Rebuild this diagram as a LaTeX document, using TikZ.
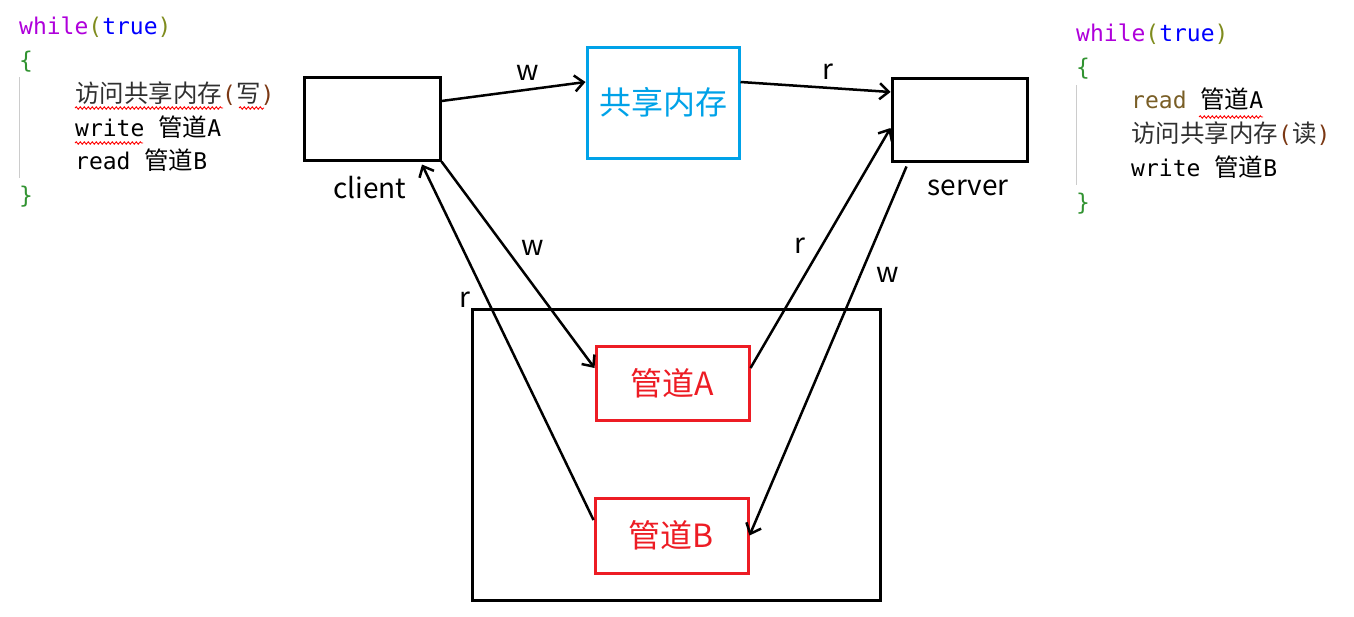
\documentclass[tikz,border=0pt]{standalone}
\usepackage{fontspec}
\setmonofont{DejaVu Sans Mono}
\newfontfamily\cjk{Noto Sans CJK SC}
\usetikzlibrary{arrows.meta,decorations.pathmorphing}
\definecolor{kw}{HTML}{AF00DB}
\definecolor{tr}{HTML}{0000FF}
\definecolor{par}{HTML}{7F8C1E}
\definecolor{brc}{HTML}{319331}
\definecolor{pb}{HTML}{7B3814}
\definecolor{fn}{HTML}{795E26}
\definecolor{zhc}{HTML}{303030}
\definecolor{shm}{HTML}{00A2E8}
\definecolor{pipe}{HTML}{ED1C24}
\newcommand\zh[1]{{\cjk\fontsize{24.5}{24.5}\selectfont #1}}
\tikzset{
  code/.style={anchor=base west, inner sep=0pt, font=\ttfamily\fontsize{23}{23}\selectfont},
  box/.style={draw, line width=3pt, rectangle, inner sep=0pt},
  lbl/.style={inner sep=0pt, font=\cjk\fontsize{28}{28}\selectfont},
  conn/.style={line width=2.5pt, -{Straight Barb[length=9pt,width=16pt,line width=2.5pt]}},
  guide/.style={draw=black!20, line width=1pt},
  wavy/.style={draw=red, line width=0.9pt, decorate, decoration={snake, amplitude=1.2pt, segment length=4pt}}
}
\begin{document}
\begin{tikzpicture}[x=1pt,y=-1pt]
\useasboundingbox (0,0) rectangle (1354,616);
% left code
\node[code] (l1) at (19,34) {\textcolor{kw}{while}\textcolor{par}{(}\textcolor{tr}{true}\textcolor{par}{)}};
\node[code] (l2) at (19,68) {\textcolor{brc}{\{}};
\node[code] (l3) at (75,102) {\textcolor{zhc}{\zh{访问共享内存}\textcolor{pb}{(}\zh{写}\textcolor{pb}{)}}};
\node[code] (l4) at (75,136) {write \zh{管道}A};
\node[code] (l5) at (75,169) {read \zh{管道}B};
\node[code] (l6) at (19,203) {\textcolor{brc}{\}}};
\coordinate (lg1) at (19,77);
\coordinate (lg2) at (19,178);
\draw[guide] (lg1) -- (lg2);
\coordinate (lw1) at (75,108); \coordinate (lw2) at (223,108);
\coordinate (lw3) at (239,108); \coordinate (lw4) at (264,108);
\coordinate (lw5) at (75,143); \coordinate (lw6) at (143,143);
\draw[wavy] (lw1) -- (lw2);
\draw[wavy] (lw3) -- (lw4);
\draw[wavy] (lw5) -- (lw6);
% right code
\node[code] (r1) at (1076,41) {\textcolor{kw}{while}\textcolor{par}{(}\textcolor{tr}{true}\textcolor{par}{)}};
\node[code] (r2) at (1076,75) {\textcolor{brc}{\{}};
\node[code] (r3) at (1131,108) {\textcolor{fn}{read} \zh{管道}A};
\node[code] (r4) at (1131,142) {\textcolor{zhc}{\zh{访问共享内存}\textcolor{pb}{(}\zh{读}\textcolor{pb}{)}}};
\node[code] (r5) at (1131,176) {write \zh{管道}B};
\node[code] (r6) at (1076,210) {\textcolor{brc}{\}}};
\coordinate (rg1) at (1076,85);
\coordinate (rg2) at (1076,185);
\draw[guide] (rg1) -- (rg2);
\coordinate (rw1) at (1199,117); \coordinate (rw2) at (1263,117);
\draw[wavy] (rw1) -- (rw2);
% boxes
\node[box, minimum width=136pt, minimum height=83pt] (client) at (372,118.5) {};
\node[box, draw=shm, minimum width=152pt, minimum height=111pt, text=shm, font=\cjk\fontsize{32}{32}\selectfont] (shm) at (663,102.5) {共享内存};
\node[box, minimum width=135pt, minimum height=83pt] (server) at (959.5,119.5) {};
\node[box, minimum width=408pt, minimum height=291pt] (outer) at (676,454.5) {};
\node[box, draw=pipe, text=pipe, minimum width=153pt, minimum height=74pt, font=\cjk\fontsize{32}{32}\selectfont] (pa) at (672.5,383) {管道A};
\node[box, draw=pipe, text=pipe, minimum width=153pt, minimum height=75pt, font=\cjk\fontsize{32}{32}\selectfont] (pb) at (671.5,535.5) {管道B};
\node[lbl] (clientl) at (370,188) {client};
\node[lbl] (serverl) at (968,188) {server};
% connectors
\draw[conn] ([yshift=17.5pt]client.east) -- ([yshift=20.5pt]shm.west);
\draw[conn] ([yshift=20.5pt]shm.east) -- ([yshift=27.5pt]server.west);
\draw[conn] (client.south east) -- ([yshift=15pt]pa.west);
\draw[conn] ([yshift=15.5pt]pb.west) -- ([xshift=50pt,yshift=-3pt]client.south);
\draw[conn] ([yshift=15pt]pa.east) -- ([yshift=-8.5pt]server.west);
\draw[conn] ([xshift=16pt,yshift=-4pt]server.south west) -- (pb.east);
% labels
\node[lbl] (w1) at (528,73) {w};
\node[lbl] (r1l) at (828,72) {r};
\node[lbl] (w2) at (533,248) {w};
\node[lbl] (r2l) at (465,300) {r};
\node[lbl] (r3l) at (800,246) {r};
\node[lbl] (w3) at (888,275) {w};
\end{tikzpicture}
\end{document}
